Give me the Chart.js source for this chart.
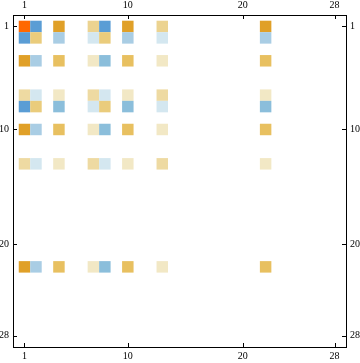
<!DOCTYPE html>
<html>
<head>
<meta charset="utf-8">
<script src="https://cdn.jsdelivr.net/npm/chart.js@4/dist/chart.umd.min.js"></script>
<style>
  html, body { margin: 0; padding: 0; background: #fff; }
  #wrap { width: 360px; height: 363px; }
</style>
</head>
<body>
<div id="wrap"><canvas id="matrixPlot"></canvas></div>
<script>
// rows / columns that hold non-zero entries (28 x 28 matrix)
const indices = [1, 2, 4, 7, 8, 10, 13, 22];
const tickValues = [1, 10, 20, 28];

// matrix entries, one row per index above
const row1  = [ 1.00, -0.60,  0.60,  0.28, -0.60,  0.60,  0.28,  0.60];
const row2  = [-0.60,  0.35, -0.30, -0.12,  0.35, -0.30, -0.12, -0.30];
const row4  = [ 0.60, -0.30,  0.45,  0.12, -0.40,  0.45,  0.12,  0.45];
const row7  = [ 0.22, -0.12,  0.12,  0.22, -0.12,  0.12,  0.22,  0.12];
const row8  = [-0.60,  0.35, -0.40, -0.12,  0.35, -0.40, -0.12, -0.40];
const row10 = [ 0.60, -0.30,  0.45,  0.12, -0.40,  0.45,  0.12,  0.45];
const row13 = [ 0.22, -0.12,  0.12,  0.22, -0.12,  0.12,  0.22,  0.12];
const row22 = [ 0.60, -0.30,  0.45,  0.12, -0.40,  0.45,  0.12,  0.45];
const rows = [row1, row2, row4, row7, row8, row10, row13, row22];

// colour function, roughly like the default MatrixPlot one
const posStops = [[0, [255,255,255]], [0.12, [242,232,197]], [0.25, [237,214,152]], [0.35, [234,204,124]],
                  [0.45, [232,192,96]], [0.6, [224,160,40]], [1.0, [255,104,0]]];
const negStops = [[0, [255,255,255]], [0.12, [212,231,240]], [0.3, [169,205,228]], [0.4, [139,190,219]],
                  [0.6, [90,157,213]], [1.0, [40,100,190]]];

function colorFor(v) {
  const stops = v >= 0 ? posStops : negStops;
  const a = Math.abs(v);
  for (let k = 1; k < stops.length; k++) {
    if (a <= stops[k][0]) {
      const [t0, c0] = stops[k - 1], [t1, c1] = stops[k];
      const f = (a - t0) / (t1 - t0);
      const c = c0.map((x, n) => Math.round(x + (c1[n] - x) * f));
      return 'rgb(' + c.join(',') + ')';
    }
  }
  return 'rgb(' + stops[stops.length - 1][1].join(',') + ')';
}

const points = [];
rows.forEach((r, i) => r.forEach((v, j) => {
  if (v !== 0) points.push({ x: indices[j], y: indices[i], v: v });
}));

const labelFont = { family: 'Liberation Serif', size: 10 };

function axis(position, size, pad, extra) {
  return Object.assign({
    type: 'linear',
    position: position,
    min: 0,
    max: 29,
    grid: { display: false, drawTicks: false },
    border: { display: true, color: '#000', width: 1 },
    ticks: { color: '#000', font: labelFont, padding: pad, maxRotation: 0, autoSkip: false },
    afterBuildTicks: s => { s.ticks = tickValues.map(v => ({ value: v })); },
    afterFit: s => {
      if (s.isHorizontal()) s.height = size; else s.width = size;
    }
  }, extra || {});
}

// small tick marks pointing into the frame
const innerTicks = {
  id: 'innerTicks',
  afterDraw(chart) {
    const ctx = chart.ctx, area = chart.chartArea, len = 4;
    ctx.save();
    ctx.strokeStyle = '#000';
    ctx.lineWidth = 1;
    ctx.beginPath();
    tickValues.forEach(v => {
      const px = Math.round(chart.scales.x.getPixelForValue(v)) + 0.5;
      const py = Math.round(chart.scales.y.getPixelForValue(v)) + 0.5;
      ctx.moveTo(px, area.bottom); ctx.lineTo(px, area.bottom - len);
      ctx.moveTo(px, area.top); ctx.lineTo(px, area.top + len);
      ctx.moveTo(area.left, py); ctx.lineTo(area.left + len, py);
      ctx.moveTo(area.right, py); ctx.lineTo(area.right - len, py);
    });
    ctx.stroke();
    ctx.restore();
  }
};

function cellRadius(c) {
  const s = c.chart.scales.x;
  return Math.abs(s.getPixelForValue(1) - s.getPixelForValue(0)) / Math.SQRT2;
}

window.onload = function () {
  const ctx = document.getElementById('matrixPlot').getContext('2d');
  new Chart(ctx, {
    type: 'scatter',
    data: {
      datasets: [{
        data: points,
        pointStyle: 'rect',
        borderWidth: 0,
        backgroundColor: c => c.raw ? colorFor(c.raw.v) : '#fff',
        pointRadius: cellRadius,
        pointHoverRadius: cellRadius
      }]
    },
    options: {
      responsive: true,
      maintainAspectRatio: false,
      animation: false,
      layout: { padding: 0, autoPadding: false },
      plugins: { legend: { display: false }, tooltip: { enabled: false } },
      scales: {
        x: axis('bottom', 16, 3),
        x2: axis('top', 15, 4, { axis: 'x' }),
        y: axis('left', 13, 4, { reverse: true }),
        y2: axis('right', 14, 4, { axis: 'y', reverse: true })
      }
    },
    plugins: [innerTicks]
  });
};
</script>
</body>
</html>
